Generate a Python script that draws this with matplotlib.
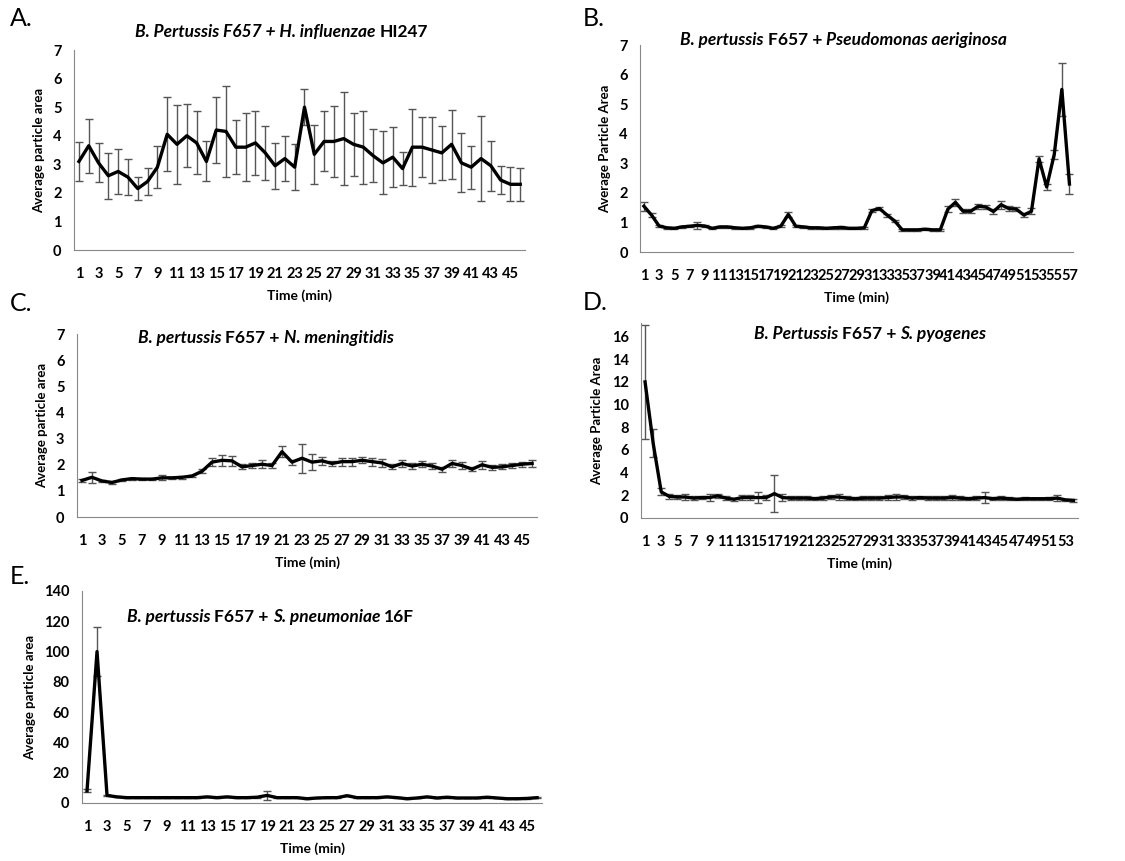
import matplotlib
matplotlib.use("Agg")
import matplotlib.pyplot as plt
import matplotlib.transforms as mtransforms
import numpy as np

plt.rcParams['font.family'] = ['Lato', 'DejaVu Sans']

# A. B. pertussis + H. influenzae
a_vals = [3.1, 3.65, 3.05, 2.6, 2.75, 2.55, 2.15, 2.4, 2.9, 4.05,
          3.7, 4.0, 3.75, 3.1, 4.2, 4.15, 3.6, 3.6, 3.75, 3.4,
          2.95, 3.2, 2.9, 5.0, 3.35, 3.8, 3.8, 3.9, 3.7, 3.6,
          3.3, 3.05, 3.25, 2.85, 3.6, 3.6, 3.5, 3.4, 3.7, 3.05,
          2.9, 3.2, 2.95, 2.45, 2.3, 2.3]
a_err = [0.68, 0.95, 0.68, 0.8, 0.78, 0.63, 0.4, 0.48, 0.73, 1.3,
         1.38, 1.1, 1.1, 0.7, 1.15, 1.58, 0.95, 1.2, 1.13, 0.95,
         0.8, 0.8, 0.8, 0.63, 1.03, 1.05, 1.23, 1.63, 1.1, 1.28,
         0.93, 1.1, 1.05, 0.58, 1.35, 1.05, 1.15, 0.95, 1.2, 1.03,
         0.75, 1.5, 0.88, 0.48, 0.6, 0.58]

# B. B. pertussis + Pseudomonas aeriginosa
b_vals = [1.55, 1.25, 0.88, 0.82, 0.8, 0.85, 0.87, 0.9, 0.88, 0.8,
          0.85, 0.85, 0.82, 0.8, 0.82, 0.87, 0.85, 0.8, 0.87, 1.27,
          0.87, 0.85, 0.82, 0.82, 0.8, 0.82, 0.83, 0.8, 0.8, 0.82,
          1.4, 1.47, 1.25, 1.05, 0.75, 0.75, 0.75, 0.77, 0.75, 0.75,
          1.45, 1.68, 1.38, 1.38, 1.55, 1.52, 1.37, 1.6, 1.47, 1.45,
          1.25, 1.38, 3.15, 2.2, 3.3, 5.5, 2.3]
b_err = [0.15, 0.08, 0.04, 0.03, 0.03, 0.03, 0.04, 0.12, 0.04, 0.03,
         0.03, 0.03, 0.03, 0.03, 0.03, 0.04, 0.03, 0.03, 0.04, 0.07,
         0.04, 0.03, 0.03, 0.03, 0.03, 0.03, 0.04, 0.03, 0.03, 0.03,
         0.06, 0.04, 0.05, 0.04, 0.03, 0.03, 0.03, 0.03, 0.03, 0.03,
         0.1, 0.12, 0.06, 0.06, 0.08, 0.08, 0.07, 0.13, 0.07, 0.06,
         0.06, 0.1, 0.1, 0.1, 0.15, 0.9, 0.33]

# C. B. pertussis + N. meningitidis
c_vals = [1.4, 1.52, 1.38, 1.32, 1.42, 1.47, 1.45, 1.45, 1.5, 1.5,
          1.52, 1.57, 1.75, 2.1, 2.17, 2.15, 1.92, 1.97, 2.02, 1.97,
          2.5, 2.1, 2.25, 2.1, 2.15, 2.05, 2.12, 2.12, 2.17, 2.12,
          2.07, 1.92, 2.05, 1.95, 2.02, 1.95, 1.83, 2.05, 1.97, 1.83,
          2.0, 1.9, 1.92, 1.97, 2.02, 2.05]
c_err = [0.05, 0.2, 0.05, 0.04, 0.04, 0.04, 0.04, 0.04, 0.1, 0.05,
         0.05, 0.05, 0.08, 0.15, 0.2, 0.2, 0.1, 0.1, 0.15, 0.1,
         0.2, 0.1, 0.55, 0.3, 0.15, 0.1, 0.15, 0.15, 0.12, 0.15,
         0.15, 0.1, 0.12, 0.1, 0.12, 0.1, 0.1, 0.12, 0.12, 0.08,
         0.15, 0.1, 0.1, 0.1, 0.1, 0.15]

# D. B. pertussis + S. pyogenes
d_vals = [12.0, 6.6, 2.3, 1.9, 1.85, 1.85, 1.75, 1.8, 1.8, 1.95,
          1.75, 1.65, 1.8, 1.8, 1.8, 1.8, 2.15, 1.8, 1.75, 1.75,
          1.75, 1.7, 1.75, 1.85, 1.85, 1.75, 1.7, 1.75, 1.75, 1.75,
          1.8, 1.85, 1.85, 1.75, 1.8, 1.75, 1.75, 1.75, 1.8, 1.75,
          1.7, 1.75, 1.8, 1.7, 1.75, 1.7, 1.65, 1.7, 1.7, 1.7,
          1.7, 1.75, 1.6, 1.55]
d_err = [5.0, 1.25, 0.3, 0.2, 0.2, 0.3, 0.15, 0.15, 0.3, 0.2,
         0.15, 0.15, 0.2, 0.2, 0.45, 0.2, 1.6, 0.3, 0.2, 0.2,
         0.2, 0.15, 0.15, 0.2, 0.3, 0.15, 0.15, 0.2, 0.15, 0.15,
         0.2, 0.25, 0.2, 0.15, 0.15, 0.15, 0.15, 0.15, 0.25, 0.15,
         0.15, 0.15, 0.45, 0.15, 0.15, 0.15, 0.1, 0.15, 0.1, 0.1,
         0.15, 0.25, 0.1, 0.1]

# E. B. pertussis + S. pneumoniae 16F
e_vals = [8, 100, 5, 4, 3.5, 3.5, 3.5, 3.5, 3.5, 3.5,
          3.5, 3.5, 4, 3.5, 4, 3.5, 3.5, 3.8, 5, 3.5,
          3.5, 3.5, 2.8, 3.3, 3.5, 3.5, 4.8, 3.5, 3.5, 3.5,
          4, 3.5, 2.8, 3.3, 4, 3.3, 3.8, 3.3, 3.3, 3.3,
          3.8, 3.3, 2.8, 2.8, 3.0, 3.5]
e_err = [1.0, 16, 0.5, 0.3, 0.3, 0.3, 0.3, 0.3, 0.3, 0.3,
         0.3, 0.3, 0.3, 0.3, 0.3, 0.3, 0.3, 0.3, 3.0, 0.3,
         0.3, 0.3, 0.3, 0.3, 0.3, 0.3, 0.5, 0.3, 0.3, 0.3,
         0.3, 0.3, 0.3, 0.3, 0.3, 0.3, 0.3, 0.3, 0.3, 0.3,
         0.3, 0.3, 0.3, 0.3, 0.3, 0.3]

fig = plt.figure(figsize=(11.25, 8.61), dpi=100)
renderer = fig.canvas.get_renderer()


def rich_title(ax, cx, cy, pieces, size=12.5):
    # pieces: (text, italic?) drawn one after another on one baseline
    px, py = ax.transAxes.transform((cx, cy))
    texts = []
    total = 0
    for s, it in pieces:
        t = fig.text(0, 0, s, fontsize=size, fontweight='bold',
                     style='italic' if it else 'normal', va='baseline',
                     transform=mtransforms.IdentityTransform())
        w = t.get_window_extent(renderer).width
        texts.append((t, w))
        total += w
    x0 = px - total / 2
    for t, w in texts:
        t.set_position((x0, py))
        x0 += w


def panel(rect, vals, err, ymax, yticks, ylabel):
    ax = fig.add_axes(rect)
    x = np.arange(1, len(vals) + 1)
    ax.errorbar(x, vals, yerr=err, color='black', lw=2.4, ecolor='#555555',
                elinewidth=1, capsize=3, capthick=1)
    ax.set_xlim(0.5, len(vals) + 0.5)
    ax.set_ylim(0, ymax)
    ax.set_yticks(yticks)
    ax.set_xticks(x[::2])
    ax.set_xticklabels([str(v) for v in x[::2]])
    ax.tick_params(length=0, labelsize=10.5)
    ax.tick_params(axis='x', pad=12)
    ax.tick_params(axis='y', pad=9)
    for lab in ax.get_xticklabels() + ax.get_yticklabels():
        lab.set_fontweight('bold')
    for s in ['top', 'right']:
        ax.spines[s].set_visible(False)
    for s in ['left', 'bottom']:
        ax.spines[s].set_color('#888888')
    ax.set_xlabel('Time (min)', fontsize=10, fontweight='bold', labelpad=6)
    ax.set_ylabel(ylabel, fontsize=9.5, fontweight='bold', labelpad=6)
    return ax


ax_a = panel([0.0658, 0.7096, 0.401, 0.2323], a_vals, a_err, 7, range(0, 8),
             'Average particle area')
rich_title(ax_a, 0.46, 1.065, [('B. Pertussis F657 + H. influenzae ', True), ('HI247', False)])

ax_b = panel([0.569, 0.7073, 0.385, 0.2404], b_vals, b_err, 7, range(0, 8),
             'Average Particle Area')
rich_title(ax_b, 0.47, 1.0, [('B. pertussis ', True), ('F657 + ', False),
                             ('Pseudomonas aeriginosa', True)])

ax_c = panel([0.0684, 0.3995, 0.409, 0.2125], c_vals, c_err, 7, range(0, 8),
             'Average particle area')
rich_title(ax_c, 0.41, 0.95, [('B. pertussis ', True), ('F657 + ', False),
                              ('N. meningitidis', True)])

ax_d = panel([0.5698, 0.3984, 0.388, 0.2265], d_vals, d_err, 17.2, range(0, 17, 2),
             'Average Particle Area')
rich_title(ax_d, 0.525, 0.92, [('B. Pertussis ', True), ('F657 + ', False),
                               ('S. pyogenes', True)])

ax_e = panel([0.0729, 0.0674, 0.409, 0.2462], e_vals, e_err, 140, range(0, 141, 20),
             'Average particle area')
rich_title(ax_e, 0.41, 0.855, [('B. pertussis ', True), ('F657 + ', False),
                               ('S. pneumoniae ', True), ('16F', False)])

for lab, xx, yy in [('A.', 0.009, 0.978), ('B.', 0.518, 0.978), ('C.', 0.009, 0.647),
                    ('D.', 0.518, 0.649), ('E.', 0.009, 0.33)]:
    fig.text(xx, yy, lab, fontsize=18, ha='left', va='center')

fig.savefig('out.png', dpi=100)
